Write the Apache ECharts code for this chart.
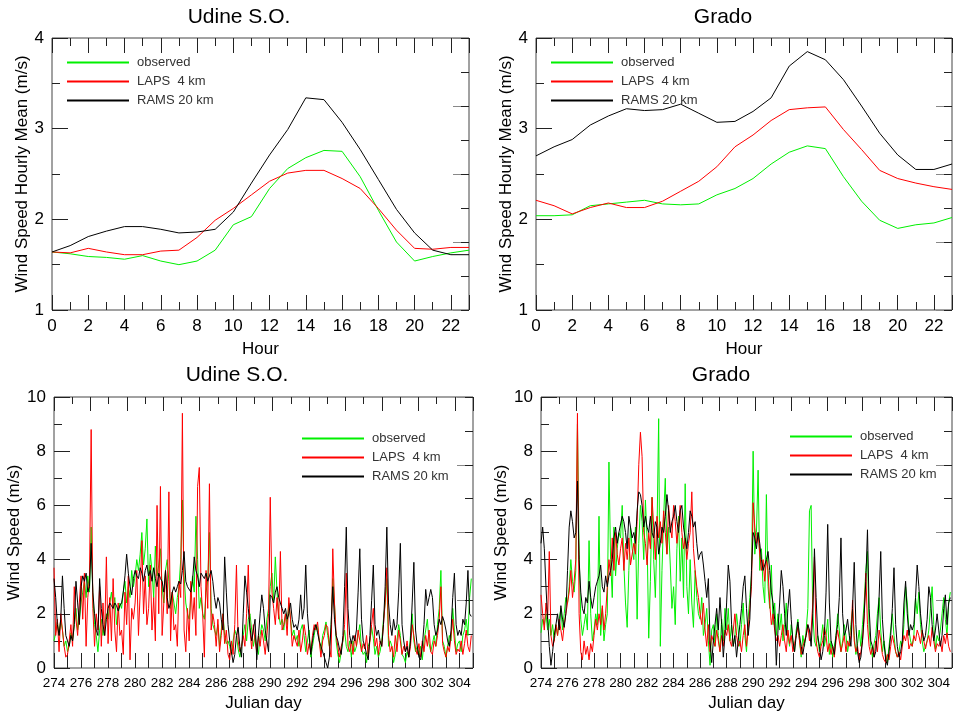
<!DOCTYPE html>
<html><head><meta charset="utf-8">
<script src="https://cdn.jsdelivr.net/npm/echarts@6/dist/echarts.min.js"></script>
<style>html,body{margin:0;padding:0;background:#fff}#c{width:955px;height:714px}</style>
</head><body><div id="c"></div>
<script>
// ---------- data ----------
const SERIES_NAMES = ['observed', 'LAPS  4 km', 'RAMS 20 km'];
const TITLES = ['Udine S.O.', 'Grado', 'Udine S.O.', 'Grado'];
const HOURS = [0,1,2,3,4,5,6,7,8,9,10,11,12,13,14,15,16,17,18,19,20,21,22,23];

// Hourly means (top panels)
const UD_OBS_H  = [1.64,1.62,1.59,1.58,1.56,1.60,1.54,1.50,1.54,1.66,1.94,2.03,2.34,2.56,2.68,2.76,2.75,2.47,2.10,1.75,1.54,1.59,1.63,1.66];
const UD_LAPS_H = [1.64,1.63,1.68,1.64,1.61,1.61,1.65,1.66,1.80,1.99,2.12,2.27,2.42,2.51,2.54,2.54,2.45,2.34,2.12,1.88,1.68,1.67,1.69,1.69];
const UD_RAMS_H = [1.64,1.71,1.81,1.87,1.92,1.92,1.89,1.85,1.86,1.89,2.08,2.40,2.71,2.99,3.34,3.32,3.07,2.77,2.44,2.11,1.85,1.66,1.61,1.61];
const GR_OBS_H  = [2.04,2.04,2.05,2.15,2.17,2.19,2.21,2.17,2.16,2.17,2.27,2.34,2.45,2.61,2.74,2.81,2.78,2.47,2.20,1.99,1.90,1.94,1.96,2.02];
const GR_LAPS_H = [2.21,2.15,2.06,2.13,2.18,2.13,2.13,2.20,2.31,2.42,2.58,2.80,2.93,3.09,3.21,3.23,3.24,2.99,2.77,2.54,2.45,2.40,2.36,2.33];
const GR_RAMS_H = [2.70,2.80,2.88,3.04,3.14,3.22,3.20,3.21,3.27,3.17,3.07,3.08,3.19,3.34,3.69,3.85,3.76,3.54,3.25,2.95,2.71,2.55,2.55,2.61];

// Time series (bottom panels): 3-hourly samples, Julian day 274.0 onward
const DAY_START = 274;
const SAMPLES_PER_DAY = 8;

const UD_OBS = [
1.0,1.3,1.7,1.2,1.8,1.4,0.8,1.0, 0.6,0.8,1.3,1.0,1.6,2.2,1.4,1.8, 2.4,2.8,3.2,2.6,3.4,2.8,5.2,2.6,
1.6,1.2,0.6,1.4,1.8,1.2,1.6,2.0, 1.8,2.4,2.8,2.2,2.6,1.6,2.0,2.4, 2.2,2.8,3.2,2.4,3.0,2.6,3.6,3.0,
3.4,4.0,3.6,4.2,5.0,3.8,4.4,5.5, 3.0,4.2,3.6,2.6,4.5,3.4,3.8,4.4, 3.0,2.4,3.6,4.0,3.2,2.2,2.8,2.4,
2.0,2.6,3.0,4.0,6.2,3.4,2.4,2.0, 1.8,2.6,3.4,2.8,5.6,4.0,2.2,2.6, 2.0,1.8,2.8,3.2,5.0,2.2,1.6,1.4,
1.2,1.6,0.8,1.4,2.0,1.2,0.9,1.0, 0.8,0.5,1.0,1.4,1.2,0.7,0.4,0.8, 1.2,1.6,1.0,1.8,2.0,1.4,0.8,1.2,
0.8,0.5,1.2,1.6,1.4,1.0,1.8,2.2, 3.0,3.5,2.4,4.1,2.8,2.0,1.6,1.8, 1.4,2.0,1.6,2.4,1.8,1.2,1.4,1.0,
1.2,0.8,1.4,1.6,1.2,0.6,1.0,1.4, 0.4,0.8,1.2,1.6,1.5,1.0,0.6,1.2, 1.4,1.7,1.2,0.8,1.5,3.3,2.4,1.0,
0.5,0.2,0.6,1.0,1.4,0.8,0.6,1.0, 0.4,1.0,0.6,0.8,1.2,1.6,0.7,0.5, 0.6,0.2,0.8,1.0,1.5,1.1,0.5,0.8,
0.4,0.6,1.0,1.8,2.4,3.3,0.8,1.0, 0.8,0.2,0.5,1.0,1.6,1.2,0.5,0.4, 0.2,0.6,0.4,1.2,2.0,1.0,0.6,0.8,
0.5,0.8,0.3,1.0,1.4,1.8,0.9,0.6, 0.6,1.2,0.8,1.6,2.2,3.6,1.0,0.8, 0.4,0.8,1.2,1.0,2.2,1.4,0.6,0.9,
1.0,0.6,1.2,1.4,1.8,1.2,2.6,3.3];

const UD_LAPS = [
3.7,1.2,1.8,0.6,2.0,1.4,0.8,0.4, 0.5,1.0,1.6,0.8,3.0,1.8,1.2,2.4, 3.4,1.8,3.5,0.8,2.6,3.3,8.8,2.2,
0.8,2.0,1.4,3.0,0.8,2.4,1.2,4.1, 0.9,2.6,1.0,3.3,1.4,0.6,2.4,1.2, 1.4,0.5,2.8,1.6,3.4,0.3,2.2,1.8,
2.4,3.6,1.2,2.8,4.7,2.0,3.4,1.6, 2.2,3.8,1.4,2.6,1.0,6.0,2.0,6.7, 1.2,2.4,3.6,2.0,6.5,1.0,2.8,1.4,
1.6,0.8,3.2,2.6,9.4,1.4,0.6,2.2, 1.0,3.2,1.8,2.6,1.2,6.7,7.4,3.0, 2.0,0.4,3.6,2.2,6.8,1.4,2.0,1.6,
0.8,1.8,0.6,1.2,2.0,0.9,1.4,0.5, 0.3,1.0,0.5,1.6,3.8,1.0,0.6,0.8, 1.2,0.8,2.0,3.8,1.4,0.7,1.6,1.0,
0.6,1.2,0.8,1.4,1.0,0.5,1.2,2.0, 6.3,2.8,2.2,1.6,2.6,1.8,4.3,1.4, 1.6,2.0,1.2,2.6,1.8,0.8,1.2,1.0,
0.8,1.4,0.6,1.0,1.6,1.2,0.5,0.9, 0.6,1.2,1.6,1.4,1.7,1.0,0.4,1.0, 1.2,1.6,1.5,0.8,0.4,4.4,2.4,1.2,
1.2,0.4,0.8,1.0,1.6,3.5,0.8,0.6, 1.0,0.5,1.2,0.8,1.4,1.0,0.6,0.9, 0.7,1.2,0.4,1.0,1.6,2.2,0.8,1.1,
0.5,1.0,0.8,1.6,2.4,3.7,1.2,0.6, 0.8,0.4,1.2,0.6,1.4,1.0,0.5,0.8, 0.6,1.0,0.4,0.8,1.6,1.2,0.7,0.5,
0.9,0.4,1.0,0.6,1.2,0.8,1.4,0.6, 0.5,1.0,0.8,1.2,1.8,3.0,0.9,0.6, 0.4,0.8,0.6,1.2,1.8,1.0,0.5,0.7,
0.6,1.0,0.5,0.9,1.4,0.8,0.6,1.2];

const UD_RAMS = [
3.3,2.6,1.6,1.2,1.8,3.4,2.2,1.2, 1.0,0.8,1.2,1.0,1.6,3.2,2.4,1.6, 3.0,3.4,3.2,3.5,2.8,3.0,4.6,2.8,
2.0,1.4,1.2,3.3,2.2,1.6,1.2,1.8, 2.2,2.4,2.3,2.2,2.4,2.3,2.1,2.3, 2.4,2.8,3.4,4.2,3.5,3.0,2.7,3.3,
3.6,3.4,3.3,3.7,3.5,3.2,3.6,3.8, 3.4,3.6,3.2,3.7,3.3,3.0,3.5,3.3, 3.2,2.8,3.6,2.6,2.2,2.4,2.8,3.0,
2.8,3.0,3.2,3.1,3.6,4.3,3.2,3.0, 3.0,2.8,3.2,4.1,3.6,3.4,3.0,3.5, 3.4,3.3,3.5,3.2,3.4,3.6,3.2,2.6,
2.2,2.6,2.4,1.8,1.4,4.1,2.8,1.6, 1.0,0.6,0.2,0.5,1.2,1.5,0.8,0.4, 2.0,3.4,2.8,2.2,1.5,1.0,1.4,1.8,
0.3,1.2,2.0,2.7,2.2,1.4,1.0,0.6, 2.7,2.6,2.4,2.8,3.0,2.6,2.4,2.2, 2.0,2.2,1.8,2.0,2.4,1.8,1.5,1.6,
1.4,1.8,2.7,1.8,2.2,3.8,2.0,1.2, 0.5,1.0,1.4,1.6,1.3,1.0,0.8,0.6, 0.6,0.2,0.0,0.4,1.6,3.0,1.8,1.2,
1.0,0.7,0.5,1.2,3.0,5.2,2.2,1.2, 0.9,1.2,1.0,1.4,2.8,4.4,1.8,1.0, 0.8,0.5,0.3,1.2,2.5,3.8,1.6,1.2,
1.4,1.0,0.8,1.6,3.0,5.2,2.4,1.6, 1.2,1.8,1.4,1.6,2.8,4.6,1.6,1.0, 0.6,0.8,0.4,1.0,2.4,3.9,1.4,0.8,
0.4,0.3,0.8,1.6,2.9,2.3,2.6,2.9, 2.6,1.6,1.2,1.4,1.8,1.6,1.9,1.7, 1.4,1.0,0.8,1.4,2.6,3.5,1.6,1.2,
1.4,1.2,1.8,1.6,2.4,3.6,2.0,1.9];

const GR_OBS = [
1.3,1.8,1.6,2.0,1.4,1.8,1.2,1.6, 1.0,1.6,1.2,1.8,2.2,1.4,2.0,2.6, 2.4,3.0,4.0,3.2,2.8,3.6,9.0,4.2,
1.8,1.2,1.6,2.0,1.4,4.7,2.0,1.0, 1.4,2.0,1.6,5.6,1.2,2.2,1.0,1.6, 2.0,7.6,4.0,2.6,5.2,3.4,4.4,5.0,
4.8,6.0,3.8,2.4,1.5,3.6,5.2,4.4, 4.0,5.2,1.8,4.6,6.0,5.4,4.0,6.2, 4.8,1.1,3.2,6.3,4.0,2.6,5.0,9.2,
0.8,3.6,5.6,7.0,4.2,5.2,3.8,2.2, 3.0,1.6,4.4,5.6,3.2,4.8,2.6,6.8, 3.0,2.0,4.0,2.4,1.5,3.6,2.6,2.0,
1.8,2.6,1.2,1.6,2.2,1.0,0.1,1.4, 1.6,0.8,2.0,1.2,0.6,1.8,1.0,2.2, 1.4,2.2,1.0,1.6,0.8,1.2,2.0,1.4,
0.8,1.6,2.4,1.2,0.6,1.8,2.6,3.4, 8.0,4.2,5.0,7.3,3.6,4.4,3.0,2.4, 6.4,3.0,2.2,3.8,1.6,2.4,1.2,2.0,
1.4,2.0,1.0,1.6,2.4,1.2,0.8,1.6, 1.0,0.6,1.4,1.8,1.0,0.4,1.2,0.8, 1.4,2.2,5.8,6.0,2.0,1.0,0.8,1.2,
0.6,1.0,1.6,0.8,1.2,1.8,0.5,1.0, 0.4,0.8,1.2,2.0,1.4,0.6,1.0,1.6, 1.2,0.6,1.0,1.6,2.2,1.2,0.5,0.9,
1.4,0.8,1.6,2.4,3.6,4.3,1.4,0.8, 0.4,0.9,1.2,2.0,2.6,1.4,0.6,1.0, 0.5,0.2,0.8,1.4,2.0,1.2,0.6,0.4,
0.6,1.0,0.8,1.6,3.0,2.4,1.4,1.0, 0.8,1.2,2.6,2.0,2.8,1.6,1.0,0.6, 0.8,1.0,1.4,2.2,3.0,1.6,0.7,1.2,
1.0,1.4,2.0,2.6,1.8,1.2,2.4,2.8];

const GR_LAPS = [
2.7,2.0,1.4,2.4,1.8,4.3,1.2,0.8, 1.0,1.6,1.2,1.8,1.4,1.0,1.6,2.0, 2.4,2.8,3.6,2.6,3.2,4.0,9.4,2.0,
0.6,0.3,1.0,0.5,0.8,0.3,0.9,0.6, 1.2,1.8,1.4,2.0,1.6,2.3,1.4,2.0, 3.0,4.0,3.4,4.8,3.6,5.0,4.2,3.8,
4.4,4.8,3.6,4.6,4.0,4.8,3.8,4.2, 4.6,4.2,5.4,7.5,8.7,7.8,5.0,4.6, 3.8,5.0,4.4,6.3,5.2,4.0,5.6,4.8,
5.4,4.6,5.8,5.0,4.2,6.0,5.2,4.8, 6.0,5.4,4.6,5.2,6.0,5.0,4.4,4.8, 4.0,4.6,5.0,6.5,4.4,3.6,3.0,2.6,
2.0,1.6,2.4,1.4,0.8,1.6,0.6,1.2, 1.0,0.8,1.4,1.0,0.6,1.2,0.8,1.4, 1.2,1.6,1.0,0.8,1.4,2.0,1.2,0.8,
1.0,0.6,1.2,1.6,0.8,1.4,2.2,3.0, 6.1,5.2,4.6,5.0,4.2,3.6,4.0,3.2, 4.0,3.6,2.4,1.6,2.0,1.4,1.0,1.2,
0.8,1.2,1.6,1.0,0.6,1.4,0.9,1.2, 0.6,0.9,1.2,1.5,1.0,0.5,0.8,1.0, 1.2,1.6,1.0,1.4,2.4,4.1,1.0,0.6,
0.4,0.8,1.0,1.5,1.2,0.6,0.9,0.5, 0.8,0.4,1.0,1.4,1.0,0.6,0.9,1.2, 0.6,1.0,0.8,1.2,2.5,1.0,0.6,0.8,
0.3,0.6,1.0,1.8,3.5,1.6,0.8,0.5, 0.8,0.4,1.0,0.6,1.4,1.0,0.5,0.3, 0.2,0.5,0.3,0.8,1.2,0.9,0.6,0.4,
0.6,0.3,0.8,1.2,1.0,1.4,0.7,0.9, 0.8,1.2,1.0,1.4,1.2,0.9,1.4,1.0, 0.7,1.0,1.2,0.8,1.5,1.0,0.6,0.9,
0.8,1.0,0.6,1.2,0.9,1.3,0.8,0.6];

const GR_RAMS = [
4.6,5.2,4.4,3.0,1.8,0.8,0.1,0.6, 1.2,1.6,2.0,1.4,2.3,1.8,1.5,2.0, 3.6,5.2,5.8,5.4,4.8,5.0,6.9,4.0,
2.8,2.2,2.0,2.6,2.4,3.2,2.6,2.2, 2.6,3.0,3.2,3.4,3.8,3.0,2.8,3.4, 3.0,3.4,3.6,4.0,4.8,5.2,4.6,5.0,
5.0,5.6,5.4,5.0,4.4,5.6,5.2,4.8, 5.0,4.6,5.8,6.5,6.4,6.0,5.2,5.6, 5.2,5.0,5.6,5.0,4.8,5.4,5.2,4.2,
4.6,5.2,5.0,5.6,6.4,5.8,5.0,5.4, 5.6,6.0,5.4,5.0,5.8,6.0,5.2,4.8, 4.4,5.0,5.8,5.6,5.2,5.4,4.6,4.0,
4.2,4.3,3.8,3.2,2.6,3.3,1.0,0.2, 1.0,1.6,2.2,1.4,2.6,1.6,0.4,1.2, 2.4,3.8,3.2,1.6,0.8,1.2,0.4,1.0,
1.6,2.2,3.0,3.4,2.2,1.2,1.8,3.6, 5.0,4.8,4.4,5.0,4.6,4.0,3.6,3.8, 4.0,4.3,3.6,2.8,2.4,1.8,0.1,1.4,
2.4,3.6,3.0,2.0,1.2,2.2,2.9,1.8, 1.0,0.6,1.2,1.7,1.2,0.8,0.5,0.9, 1.2,1.6,1.4,0.8,2.0,4.4,2.6,1.2,
0.8,0.3,0.6,1.2,2.8,5.3,2.4,1.0, 0.8,0.5,1.2,1.6,2.6,4.8,2.0,1.2, 1.4,1.8,1.2,0.8,2.2,3.9,1.6,0.6,
0.2,0.4,1.0,2.0,3.2,5.1,2.2,1.0, 0.8,0.4,0.6,1.4,2.6,4.3,1.8,0.9, 0.3,0.1,0.6,1.2,2.2,3.7,1.6,0.8,
0.4,0.6,1.0,2.4,3.2,2.0,1.2,1.6, 1.4,1.6,2.6,3.8,3.0,2.0,1.4,1.0, 1.2,1.8,3.0,2.6,1.6,1.0,1.4,2.0,
1.4,0.8,1.2,2.2,2.7,1.6,2.4,2.6];

// ---------- chart ----------
const FONT = '"Liberation Sans", Arial, sans-serif';
const COLORS = ['#00f000', '#ff0000', '#000000'];
const FRAME = '#444';

const GRIDS = [
  {left: 52, top: 38, width: 417, height: 272},
  {left: 536, top: 38, width: 416, height: 272},
  {left: 54, top: 397, width: 419, height: 271},
  {left: 541, top: 397, width: 419, height: 271}
];
const LEGEND_POS = [[67, 56], [551, 56], [302, 432], [790, 430]];
const YNAME_GAP = [20, 20.5, 30.5, 27.5];
const TITLE_SHIFT_PAD = [43, 42, 53, 51];

function hourPairs(arr) { return HOURS.map((h, i) => [h, arr[i]]); }
function dayPairs(arr) { return arr.map((v, i) => [DAY_START + i / SAMPLES_PER_DAY, v]); }

const panelData = [
  [hourPairs(UD_OBS_H), hourPairs(UD_LAPS_H), hourPairs(UD_RAMS_H)],
  [hourPairs(GR_OBS_H), hourPairs(GR_LAPS_H), hourPairs(GR_RAMS_H)],
  [dayPairs(UD_OBS), dayPairs(UD_LAPS), dayPairs(UD_RAMS)],
  [dayPairs(GR_OBS), dayPairs(GR_LAPS), dayPairs(GR_RAMS)]
];

const xAxes = [], yAxes = [], series = [];
const noLine = {show: false, onZero: false};
const tick = (len, color) => ({show: true, inside: true, length: len, lineStyle: {color: color, width: 1}});

GRIDS.forEach((g, gi) => {
  const isHour = gi < 2;
  // bottom axis (labels + name)
  xAxes.push({
    gridIndex: gi, type: 'value', position: 'bottom',
    min: isHour ? 0 : 274, max: isHour ? 23 : 305, interval: isHour ? 2 : 1,
    axisLine: noLine, axisTick: tick(15, '#222'), splitLine: {show: false},
    axisLabel: {margin: 8, fontSize: isHour ? 17 : 13.5, color: '#000',
                fontFamily: FONT,
                formatter: v => (v % 2 === 0 ? String(v) : '')},
    name: isHour ? 'Hour' : 'Julian day', nameLocation: 'middle', nameGap: isHour ? 31 : 27,
    nameTextStyle: {fontSize: 17, color: '#000', fontFamily: FONT}
  });
  // bottom minor ticks (odd hours) for the hour panels
  xAxes.push({
    gridIndex: gi, type: 'value', position: 'bottom',
    min: isHour ? 0 : 274, max: isHour ? 23 : 305, interval: 1,
    axisLine: noLine, axisTick: tick(isHour ? 8 : 15, '#222'), splitLine: {show: false},
    axisLabel: {show: false}
  });
  // top axis: hour-spaced ticks (long), carries title
  xAxes.push({
    gridIndex: gi, type: 'value', position: 'top',
    min: 0, max: 23, interval: 2,
    axisLine: noLine, axisTick: tick(isHour ? 15 : 14, '#222'), splitLine: {show: false},
    axisLabel: {show: false},
    name: TITLES[gi], nameLocation: 'middle', nameGap: isHour ? 10 : 11,
    nameTextStyle: {fontSize: 21, color: '#000', fontFamily: FONT,
                    padding: [0, TITLE_SHIFT_PAD[gi], 0, 0]}
  });
  // top axis short ticks
  xAxes.push({
    gridIndex: gi, type: 'value', position: 'top',
    min: 0, max: 23, interval: 1,
    axisLine: noLine, axisTick: tick(isHour ? 8 : 7, '#222'), splitLine: {show: false},
    axisLabel: {show: false}
  });
  // left axis (labels + name)
  yAxes.push({
    gridIndex: gi, type: 'value', position: 'left',
    min: isHour ? 1 : 0, max: isHour ? 4 : 10, interval: isHour ? 1 : 2,
    axisLine: noLine, axisTick: tick(16, '#222'), splitLine: {show: false},
    axisLabel: {margin: 8, fontSize: 17, color: '#000', fontFamily: FONT},
    name: isHour ? 'Wind Speed Hourly Mean (m/s)' : 'Wind Speed (m/s)',
    nameLocation: 'middle', nameRotate: 90, nameGap: YNAME_GAP[gi],
    nameTextStyle: {fontSize: 17, color: '#000', fontFamily: FONT}
  });
  // left minor ticks
  yAxes.push({
    gridIndex: gi, type: 'value', position: 'left',
    min: isHour ? 1 : 0, max: isHour ? 4 : 10, interval: isHour ? 0.5 : 1,
    axisLine: noLine, axisTick: tick(8, '#222'), splitLine: {show: false},
    axisLabel: {show: false}
  });
  // right axis: eight divisions, long grey ticks at even
  yAxes.push({
    gridIndex: gi, type: 'value', position: 'right',
    min: 0, max: 8, interval: 2,
    axisLine: noLine, axisTick: tick(16, '#888'), splitLine: {show: false},
    axisLabel: {show: false}
  });
  // right short ticks at odd
  yAxes.push({
    gridIndex: gi, type: 'value', position: 'right',
    min: 0, max: 8, interval: 1,
    axisLine: noLine, axisTick: tick(8, '#222'), splitLine: {show: false},
    axisLabel: {show: false}
  });
  panelData[gi].forEach((d, si) => {
    series.push({
      type: 'line', name: SERIES_NAMES[si], data: d,
      xAxisIndex: gi * 4, yAxisIndex: gi * 4,
      symbol: 'none', showSymbol: false, smooth: false,
      lineStyle: {color: COLORS[si], width: 1},
      itemStyle: {color: COLORS[si]},
      z: 2 + si
    });
  });
});

const option = {
  animation: false,
  backgroundColor: '#fff',
  textStyle: {fontFamily: FONT},
  grid: GRIDS.map(g => Object.assign({show: true, borderColor: FRAME, borderWidth: 1, backgroundColor: 'transparent', containLabel: false}, g)),
  legend: LEGEND_POS.map(p => ({
    left: p[0], top: p[1], orient: 'vertical', padding: 0,
    icon: 'rect', itemWidth: 62, itemHeight: 2, itemGap: 6, selectedMode: false,
    data: SERIES_NAMES,
    itemStyle: {borderWidth: 0},
    textStyle: {fontSize: 13, lineHeight: 13, color: '#333', fontFamily: FONT, padding: [0, 0, 0, 3]}
  })),
  xAxis: xAxes,
  yAxis: yAxes,
  series: series
};

const chart = echarts.init(document.getElementById('c'), null, {renderer: 'canvas'});
chart.setOption(option);
</script>
</body></html>
